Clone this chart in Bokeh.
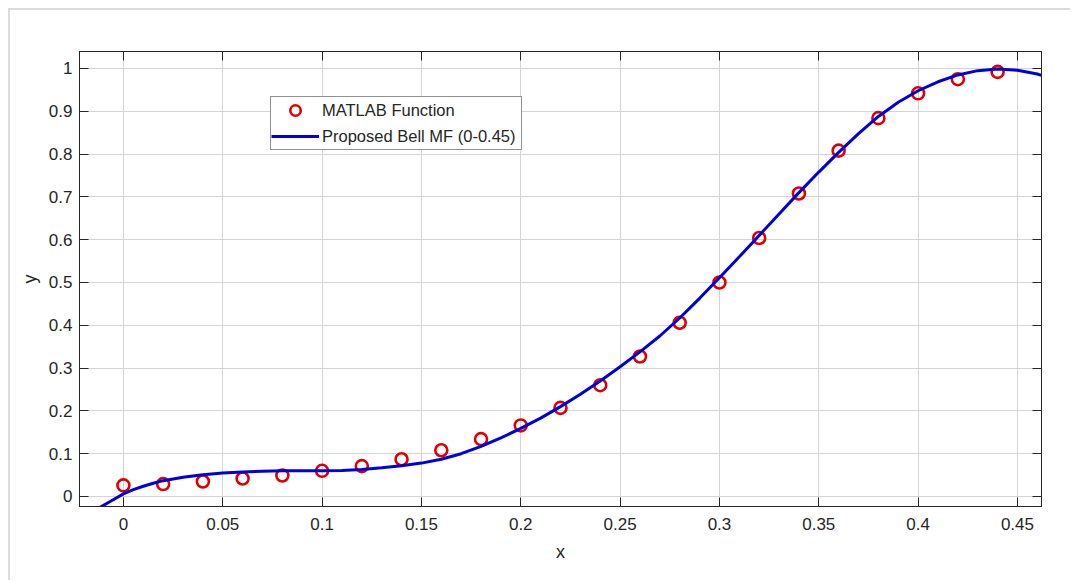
from bokeh.plotting import figure
from bokeh.models import LinearAxis, FixedTicker, Range1d
from bokeh.embed import file_html
from bokeh.resources import INLINE

# MATLAB Function samples
pts_x = [0.00, 0.02, 0.04, 0.06, 0.08, 0.10, 0.12, 0.14, 0.16, 0.18, 0.20, 0.22,
         0.24, 0.26, 0.28, 0.30, 0.32, 0.34, 0.36, 0.38, 0.40, 0.42, 0.44]
pts_y = [0.026, 0.029, 0.035, 0.042, 0.049, 0.060, 0.071, 0.087, 0.108, 0.134, 0.166, 0.207,
         0.260, 0.327, 0.406, 0.500, 0.604, 0.708, 0.808, 0.884, 0.942, 0.975, 0.992]

# Proposed Bell MF curve
curve_x = [-0.012, -0.006, 0.00, 0.005, 0.01, 0.015, 0.02, 0.03, 0.04, 0.05, 0.06, 0.07,
           0.08, 0.09, 0.10, 0.11, 0.12, 0.13, 0.14, 0.15, 0.16, 0.17, 0.18, 0.19,
           0.20, 0.21, 0.22, 0.23, 0.24, 0.25, 0.26, 0.27, 0.28, 0.29, 0.30, 0.31,
           0.32, 0.33, 0.34, 0.35, 0.36, 0.37, 0.38, 0.39, 0.40, 0.41, 0.42, 0.43,
           0.44, 0.45, 0.46, 0.465]
curve_y = [-0.026, -0.010, 0.006, 0.016, 0.024, 0.031, 0.037, 0.045, 0.051, 0.055, 0.057, 0.059,
           0.060, 0.060, 0.060, 0.061, 0.063, 0.067, 0.072, 0.078, 0.087, 0.100, 0.117, 0.137,
           0.159, 0.183, 0.210, 0.239, 0.270, 0.303, 0.338, 0.375, 0.417, 0.463, 0.511, 0.560,
           0.610, 0.660, 0.710, 0.758, 0.804, 0.848, 0.888, 0.921, 0.948, 0.969, 0.985, 0.995,
           0.999, 0.996, 0.987, 0.980]

x_ticks = [0, 0.05, 0.1, 0.15, 0.2, 0.25, 0.3, 0.35, 0.4, 0.45]
x_tick_labels = ["0", "0.05", "0.1", "0.15", "0.2", "0.25", "0.3", "0.35", "0.4", "0.45"]
y_ticks = [0, 0.1, 0.2, 0.3, 0.4, 0.5, 0.6, 0.7, 0.8, 0.9, 1.0]
y_tick_labels = ["0", "0.1", "0.2", "0.3", "0.4", "0.5", "0.6", "0.7", "0.8", "0.9", "1"]

FONT = "Liberation Sans"
TXT = "#262626"

p = figure(width=1062, height=572,
           x_range=Range1d(-0.0221, 0.4621), y_range=Range1d(-0.0234, 1.0397),
           output_backend="svg", toolbar_location=None,
           x_axis_label="x", y_axis_label="y")
p.styles = {"margin-left": "8px", "margin-top": "8px",
            "border-left": "2px solid #dcdcdc", "border-top": "2px solid #dcdcdc"}
p.min_border_left = 69
p.min_border_right = 31
p.min_border_top = 41
p.min_border_bottom = 76
p.background_fill_color = "white"
p.border_fill_color = "white"
p.outline_line_color = TXT
p.outline_line_width = 1

bottom = p.below[0]
left = p.left[0]
bottom.ticker = FixedTicker(ticks=x_ticks)
bottom.major_label_overrides = dict(zip(x_ticks, x_tick_labels))
left.ticker = FixedTicker(ticks=y_ticks)
left.major_label_overrides = dict(zip(y_ticks, y_tick_labels))

top = LinearAxis(ticker=FixedTicker(ticks=x_ticks), major_label_text_color=None,
                 major_label_text_font_size="0px")
right = LinearAxis(ticker=FixedTicker(ticks=y_ticks), major_label_text_color=None,
                   major_label_text_font_size="0px")
p.add_layout(top, "above")
p.add_layout(right, "right")

for ax in (bottom, left, top, right):
    ax.axis_line_color = TXT
    ax.axis_line_width = 1
    ax.major_tick_line_color = TXT
    ax.major_tick_line_width = 1
    ax.major_tick_in = 9
    ax.major_tick_out = 0
    ax.minor_tick_line_color = None
    ax.major_label_text_font = FONT
    ax.axis_label_text_font = FONT
    ax.axis_label_text_font_style = "normal"
    ax.axis_label_text_color = TXT

for ax in (bottom, left):
    ax.major_label_text_font_size = "17px"
    ax.major_label_text_color = TXT
    ax.axis_label_text_font_size = "18px"

bottom.major_label_standoff = 11
bottom.axis_label_standoff = 9
left.major_label_standoff = 7
left.axis_label_standoff = 6

p.grid.grid_line_color = "#d4d4d4"
p.grid.grid_line_width = 1
p.xgrid.ticker = FixedTicker(ticks=x_ticks)
p.ygrid.ticker = FixedTicker(ticks=y_ticks)

p.scatter(pts_x, pts_y, marker="circle", size=12, fill_color=None,
          line_color="#e00000", line_width=2.6, legend_label="MATLAB Function")
p.line(curve_x, curve_y, line_color="#0000dd", line_width=3,
       legend_label="Proposed Bell MF (0-0.45)")

lg = p.legend[0]
lg.location = (191, 356)
lg.border_line_color = TXT
lg.border_line_width = 1
lg.background_fill_color = "white"
lg.background_fill_alpha = 1
lg.label_text_font = FONT
lg.label_text_font_size = "16.5px"
lg.label_text_color = TXT
lg.padding = 0
lg.spacing = 0
lg.margin = 0
lg.glyph_width = 48
lg.glyph_height = 26
lg.label_height = 20
lg.label_width = 199
lg.label_standoff = 3

open("out.html", "w").write(file_html(p, INLINE))
